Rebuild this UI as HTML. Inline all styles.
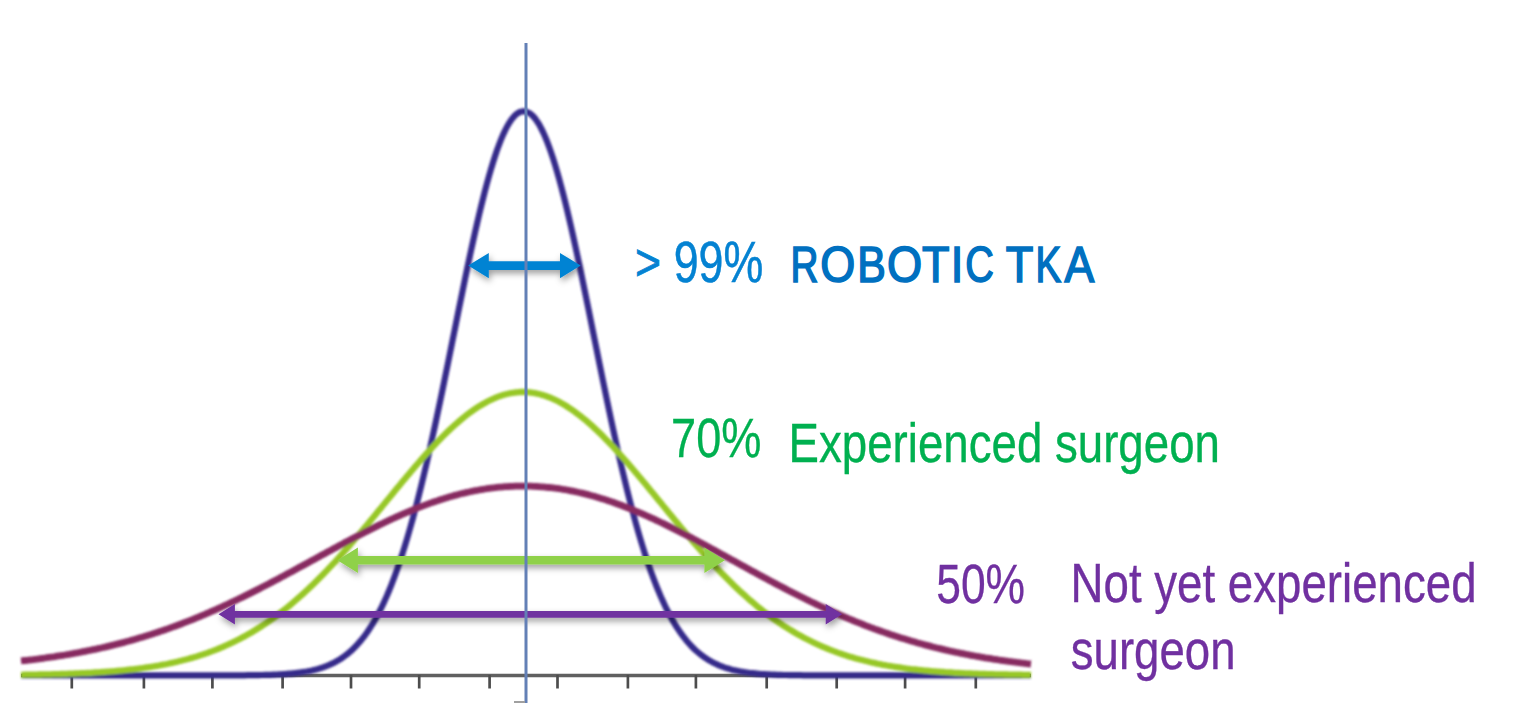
<!DOCTYPE html>
<html><head><meta charset="utf-8"><style>
html,body{margin:0;padding:0;background:#fff;width:1514px;height:708px;overflow:hidden}
svg{display:block}
text{font-family:"Liberation Sans",sans-serif}
</style></head><body>
<svg width="1514" height="708" viewBox="0 0 1514 708">
<defs>
<filter id="sh" x="-10%" y="-50%" width="120%" height="250%"><feDropShadow dx="1.5" dy="3.5" stdDeviation="3" flood-color="#000" flood-opacity="0.38"/></filter>
<filter id="bl2" x="-20%" y="-20%" width="140%" height="140%" filterUnits="userSpaceOnUse"><feGaussianBlur stdDeviation="0.7"/></filter>
<filter id="bl" x="-5%" y="-5%" width="110%" height="110%"><feGaussianBlur stdDeviation="1.0"/></filter>
</defs>
<g filter="url(#bl2)"><line x1="21" y1="675.5" x2="1031" y2="675.5" stroke="#606060" stroke-width="3.6"/>
<g stroke="#4e4e4e" stroke-width="2.7"><line x1="71.8" y1="675" x2="71.8" y2="688.5"/><line x1="143.9" y1="675" x2="143.9" y2="688.5"/><line x1="212.4" y1="675" x2="212.4" y2="688.5"/><line x1="282.6" y1="675" x2="282.6" y2="688.5"/><line x1="351" y1="675" x2="351" y2="688.5"/><line x1="419.2" y1="675" x2="419.2" y2="688.5"/><line x1="489.6" y1="675" x2="489.6" y2="688.5"/><line x1="557.5" y1="675" x2="557.5" y2="688.5"/><line x1="627.9" y1="675" x2="627.9" y2="688.5"/><line x1="695.9" y1="675" x2="695.9" y2="688.5"/><line x1="766.7" y1="675" x2="766.7" y2="688.5"/><line x1="836.7" y1="675" x2="836.7" y2="688.5"/><line x1="905.1" y1="675" x2="905.1" y2="688.5"/><line x1="975.8" y1="675" x2="975.8" y2="688.5"/></g></g>
<g fill="none" stroke-linejoin="round" filter="url(#bl)">
<path d="M21,675.4 23,675.4 25,675.4 27,675.4 29,675.4 31,675.4 33,675.4 35,675.4 37,675.4 39,675.4 41,675.4 43,675.4 45,675.4 47,675.4 49,675.4 51,675.4 53,675.4 55,675.4 57,675.4 59,675.4 61,675.4 63,675.4 65,675.4 67,675.4 69,675.4 71,675.4 73,675.4 75,675.4 77,675.4 79,675.4 81,675.4 83,675.4 85,675.4 87,675.4 89,675.4 91,675.4 93,675.4 95,675.4 97,675.4 99,675.4 101,675.4 103,675.4 105,675.4 107,675.4 109,675.4 111,675.4 113,675.4 115,675.4 117,675.4 119,675.4 121,675.4 123,675.4 125,675.4 127,675.4 129,675.4 131,675.4 133,675.4 135,675.4 137,675.4 139,675.4 141,675.4 143,675.4 145,675.4 147,675.4 149,675.4 151,675.4 153,675.4 155,675.4 157,675.4 159,675.4 161,675.4 163,675.4 165,675.4 167,675.4 169,675.4 171,675.4 173,675.4 175,675.4 177,675.4 179,675.4 181,675.4 183,675.4 185,675.4 187,675.4 189,675.4 191,675.4 193,675.4 195,675.4 197,675.4 199,675.4 201,675.4 203,675.4 205,675.4 207,675.4 209,675.4 211,675.4 213,675.4 215,675.4 217,675.4 219,675.4 221,675.4 223,675.4 225,675.4 227,675.4 229,675.3 231,675.3 233,675.3 235,675.3 237,675.3 239,675.3 241,675.3 243,675.3 245,675.3 247,675.2 249,675.2 251,675.2 253,675.2 255,675.1 257,675.1 259,675.1 261,675.0 263,675.0 265,674.9 267,674.9 269,674.8 271,674.8 273,674.7 275,674.6 277,674.5 279,674.4 281,674.3 283,674.2 285,674.1 287,673.9 289,673.7 291,673.6 293,673.4 295,673.2 297,672.9 299,672.7 301,672.4 303,672.1 305,671.8 307,671.5 309,671.1 311,670.7 313,670.2 315,669.7 317,669.2 319,668.6 321,668.0 323,667.4 325,666.6 327,665.9 329,665.0 331,664.1 333,663.2 335,662.2 337,661.0 339,659.9 341,658.6 343,657.2 345,655.8 347,654.3 349,652.6 351,650.9 353,649.0 355,647.0 357,644.9 359,642.7 361,640.4 363,637.9 365,635.3 367,632.5 369,629.5 371,626.4 373,623.2 375,619.8 377,616.2 379,612.4 381,608.5 383,604.3 385,600.0 387,595.5 389,590.7 391,585.8 393,580.7 395,575.3 397,569.8 399,564.0 401,558.1 403,551.9 405,545.5 407,538.9 409,532.0 411,525.0 413,517.8 415,510.3 417,502.7 419,494.8 421,486.8 423,478.5 425,470.1 427,461.5 429,452.7 431,443.8 433,434.7 435,425.5 437,416.2 439,406.7 441,397.1 443,387.5 445,377.7 447,367.9 449,358.0 451,348.1 453,338.2 455,328.3 457,318.3 459,308.4 461,298.6 463,288.8 465,279.1 467,269.5 469,260.0 471,250.7 473,241.5 475,232.5 477,223.7 479,215.1 481,206.8 483,198.7 485,190.8 487,183.3 489,176.0 491,169.1 493,162.5 495,156.2 497,150.3 499,144.8 501,139.7 503,134.9 505,130.6 507,126.7 509,123.2 511,120.2 513,117.6 515,115.4 517,113.7 519,112.5 521,111.7 523,111.3 525,111.4 527,111.9 529,112.9 531,114.3 533,116.1 535,118.4 537,121.2 539,124.3 541,128.0 543,132.0 545,136.5 547,141.3 549,146.6 551,152.2 553,158.2 555,164.6 557,171.3 559,178.4 561,185.7 563,193.4 565,201.3 567,209.5 569,218.0 571,226.6 573,235.5 575,244.6 577,253.8 579,263.2 581,272.7 583,282.3 585,292.1 587,301.9 589,311.7 591,321.6 593,331.6 595,341.5 597,351.4 599,361.3 601,371.2 603,381.0 605,390.7 607,400.3 609,409.9 611,419.3 613,428.6 615,437.8 617,446.8 619,455.7 621,464.4 623,472.9 625,481.3 627,489.5 629,497.4 631,505.2 633,512.8 635,520.2 637,527.4 639,534.3 641,541.1 643,547.6 645,554.0 647,560.1 649,566.0 651,571.7 653,577.1 655,582.4 657,587.5 659,592.3 661,597.0 663,601.4 665,605.7 667,609.8 669,613.7 671,617.4 673,620.9 675,624.3 677,627.5 679,630.5 681,633.4 683,636.1 685,638.7 687,641.2 689,643.5 691,645.7 693,647.7 695,649.7 697,651.5 699,653.2 701,654.8 703,656.3 705,657.7 707,659.0 709,660.3 711,661.4 713,662.5 715,663.5 717,664.4 719,665.3 721,666.1 723,666.9 725,667.6 727,668.2 729,668.8 731,669.4 733,669.9 735,670.4 737,670.8 739,671.2 741,671.6 743,671.9 745,672.2 747,672.5 749,672.8 751,673.0 753,673.2 755,673.4 757,673.6 759,673.8 761,674.0 763,674.1 765,674.2 767,674.3 769,674.4 771,674.5 773,674.6 775,674.7 777,674.8 779,674.8 781,674.9 783,675.0 785,675.0 787,675.0 789,675.1 791,675.1 793,675.1 795,675.2 797,675.2 799,675.2 801,675.2 803,675.3 805,675.3 807,675.3 809,675.3 811,675.3 813,675.3 815,675.3 817,675.3 819,675.3 821,675.4 823,675.4 825,675.4 827,675.4 829,675.4 831,675.4 833,675.4 835,675.4 837,675.4 839,675.4 841,675.4 843,675.4 845,675.4 847,675.4 849,675.4 851,675.4 853,675.4 855,675.4 857,675.4 859,675.4 861,675.4 863,675.4 865,675.4 867,675.4 869,675.4 871,675.4 873,675.4 875,675.4 877,675.4 879,675.4 881,675.4 883,675.4 885,675.4 887,675.4 889,675.4 891,675.4 893,675.4 895,675.4 897,675.4 899,675.4 901,675.4 903,675.4 905,675.4 907,675.4 909,675.4 911,675.4 913,675.4 915,675.4 917,675.4 919,675.4 921,675.4 923,675.4 925,675.4 927,675.4 929,675.4 931,675.4 933,675.4 935,675.4 937,675.4 939,675.4 941,675.4 943,675.4 945,675.4 947,675.4 949,675.4 951,675.4 953,675.4 955,675.4 957,675.4 959,675.4 961,675.4 963,675.4 965,675.4 967,675.4 969,675.4 971,675.4 973,675.4 975,675.4 977,675.4 979,675.4 981,675.4 983,675.4 985,675.4 987,675.4 989,675.4 991,675.4 993,675.4 995,675.4 997,675.4 999,675.4 1001,675.4 1003,675.4 1005,675.4 1007,675.4 1009,675.4 1011,675.4 1013,675.4 1015,675.4 1017,675.4 1019,675.4 1021,675.4 1023,675.4 1025,675.4 1027,675.4 1029,675.4 1031,675.4" stroke="#35298a" stroke-width="6.2"/>
<path d="M21,674.8 23,674.8 25,674.7 27,674.7 29,674.7 31,674.7 33,674.6 35,674.6 37,674.6 39,674.5 41,674.5 43,674.4 45,674.4 47,674.4 49,674.3 51,674.3 53,674.2 55,674.2 57,674.1 59,674.1 61,674.0 63,673.9 65,673.9 67,673.8 69,673.7 71,673.7 73,673.6 75,673.5 77,673.4 79,673.3 81,673.2 83,673.2 85,673.1 87,673.0 89,672.9 91,672.8 93,672.6 95,672.5 97,672.4 99,672.3 101,672.1 103,672.0 105,671.9 107,671.7 109,671.6 111,671.4 113,671.3 115,671.1 117,670.9 119,670.7 121,670.6 123,670.4 125,670.2 127,669.9 129,669.7 131,669.5 133,669.3 135,669.0 137,668.8 139,668.5 141,668.3 143,668.0 145,667.7 147,667.4 149,667.1 151,666.8 153,666.5 155,666.2 157,665.8 159,665.5 161,665.1 163,664.7 165,664.4 167,664.0 169,663.5 171,663.1 173,662.7 175,662.2 177,661.8 179,661.3 181,660.8 183,660.3 185,659.8 187,659.3 189,658.7 191,658.1 193,657.6 195,657.0 197,656.4 199,655.7 201,655.1 203,654.4 205,653.8 207,653.1 209,652.3 211,651.6 213,650.9 215,650.1 217,649.3 219,648.5 221,647.7 223,646.8 225,645.9 227,645.0 229,644.1 231,643.2 233,642.2 235,641.3 237,640.3 239,639.3 241,638.2 243,637.1 245,636.1 247,634.9 249,633.8 251,632.7 253,631.5 255,630.3 257,629.0 259,627.8 261,626.5 263,625.2 265,623.9 267,622.5 269,621.1 271,619.7 273,618.3 275,616.9 277,615.4 279,613.9 281,612.3 283,610.8 285,609.2 287,607.6 289,606.0 291,604.3 293,602.6 295,600.9 297,599.2 299,597.4 301,595.7 303,593.9 305,592.0 307,590.2 309,588.3 311,586.4 313,584.5 315,582.5 317,580.5 319,578.5 321,576.5 323,574.5 325,572.4 327,570.3 329,568.2 331,566.1 333,563.9 335,561.8 337,559.6 339,557.4 341,555.2 343,552.9 345,550.7 347,548.4 349,546.1 351,543.8 353,541.5 355,539.1 357,536.8 359,534.4 361,532.1 363,529.7 365,527.3 367,524.9 369,522.5 371,520.1 373,517.6 375,515.2 377,512.8 379,510.3 381,507.9 383,505.4 385,503.0 387,500.6 389,498.1 391,495.7 393,493.2 395,490.8 397,488.3 399,485.9 401,483.5 403,481.1 405,478.7 407,476.3 409,473.9 411,471.5 413,469.2 415,466.8 417,464.5 419,462.2 421,459.9 423,457.6 425,455.4 427,453.2 429,451.0 431,448.8 433,446.6 435,444.5 437,442.4 439,440.3 441,438.3 443,436.2 445,434.3 447,432.3 449,430.4 451,428.5 453,426.7 455,424.8 457,423.1 459,421.3 461,419.7 463,418.0 465,416.4 467,414.8 469,413.3 471,411.8 473,410.4 475,409.0 477,407.7 479,406.4 481,405.2 483,404.0 485,402.9 487,401.8 489,400.8 491,399.8 493,398.9 495,398.0 497,397.2 499,396.4 501,395.7 503,395.1 505,394.5 507,394.0 509,393.5 511,393.1 513,392.8 515,392.5 517,392.3 519,392.1 521,392.0 523,392.0 525,392.0 527,392.1 529,392.3 531,392.5 533,392.8 535,393.2 537,393.6 539,394.0 541,394.6 543,395.1 545,395.8 547,396.5 549,397.2 551,398.0 553,398.9 555,399.8 557,400.8 559,401.8 561,402.9 563,404.1 565,405.2 567,406.5 569,407.8 571,409.1 573,410.5 575,411.9 577,413.4 579,414.9 581,416.5 583,418.1 585,419.7 587,421.4 589,423.2 591,424.9 593,426.7 595,428.6 597,430.5 599,432.4 601,434.3 603,436.3 605,438.4 607,440.4 609,442.5 611,444.6 613,446.7 615,448.9 617,451.1 619,453.3 621,455.5 623,457.8 625,460.0 627,462.3 629,464.6 631,467.0 633,469.3 635,471.7 637,474.0 639,476.4 641,478.8 643,481.2 645,483.6 647,486.0 649,488.5 651,490.9 653,493.3 655,495.8 657,498.2 659,500.7 661,503.1 663,505.6 665,508.0 667,510.5 669,512.9 671,515.3 673,517.8 675,520.2 677,522.6 679,525.0 681,527.4 683,529.8 685,532.2 687,534.6 689,536.9 691,539.3 693,541.6 695,543.9 697,546.2 699,548.5 701,550.8 703,553.0 705,555.3 707,557.5 709,559.7 711,561.9 713,564.1 715,566.2 717,568.3 719,570.4 721,572.5 723,574.6 725,576.6 727,578.6 729,580.6 731,582.6 733,584.6 735,586.5 737,588.4 739,590.3 741,592.1 743,593.9 745,595.7 747,597.5 749,599.3 751,601.0 753,602.7 755,604.4 757,606.1 759,607.7 761,609.3 763,610.9 765,612.4 767,613.9 769,615.5 771,616.9 773,618.4 775,619.8 777,621.2 779,622.6 781,623.9 783,625.3 785,626.6 787,627.8 789,629.1 791,630.3 793,631.5 795,632.7 797,633.9 799,635.0 801,636.1 803,637.2 805,638.3 807,639.3 809,640.3 811,641.3 813,642.3 815,643.2 817,644.2 819,645.1 821,646.0 823,646.8 825,647.7 827,648.5 829,649.3 831,650.1 833,650.9 835,651.6 837,652.4 839,653.1 841,653.8 843,654.5 845,655.1 847,655.8 849,656.4 851,657.0 853,657.6 855,658.2 857,658.7 859,659.3 861,659.8 863,660.3 865,660.8 867,661.3 869,661.8 871,662.3 873,662.7 875,663.1 877,663.6 879,664.0 881,664.4 883,664.8 885,665.1 887,665.5 889,665.8 891,666.2 893,666.5 895,666.8 897,667.1 899,667.4 901,667.7 903,668.0 905,668.3 907,668.6 909,668.8 911,669.1 913,669.3 915,669.5 917,669.7 919,670.0 921,670.2 923,670.4 925,670.6 927,670.7 929,670.9 931,671.1 933,671.3 935,671.4 937,671.6 939,671.7 941,671.9 943,672.0 945,672.2 947,672.3 949,672.4 951,672.5 953,672.6 955,672.8 957,672.9 959,673.0 961,673.1 963,673.2 965,673.3 967,673.3 969,673.4 971,673.5 973,673.6 975,673.7 977,673.7 979,673.8 981,673.9 983,673.9 985,674.0 987,674.1 989,674.1 991,674.2 993,674.2 995,674.3 997,674.3 999,674.4 1001,674.4 1003,674.4 1005,674.5 1007,674.5 1009,674.6 1011,674.6 1013,674.6 1015,674.7 1017,674.7 1019,674.7 1021,674.7 1023,674.8 1025,674.8 1027,674.8 1029,674.8 1031,674.9" stroke="#97c828" stroke-width="6.3"/>
<path d="M21,660.9 23,660.7 25,660.5 27,660.3 29,660.0 31,659.8 33,659.6 35,659.3 37,659.1 39,658.8 41,658.5 43,658.3 45,658.0 47,657.7 49,657.4 51,657.1 53,656.9 55,656.6 57,656.2 59,655.9 61,655.6 63,655.3 65,655.0 67,654.6 69,654.3 71,653.9 73,653.6 75,653.2 77,652.9 79,652.5 81,652.1 83,651.7 85,651.3 87,650.9 89,650.5 91,650.1 93,649.7 95,649.3 97,648.9 99,648.4 101,648.0 103,647.5 105,647.1 107,646.6 109,646.1 111,645.6 113,645.1 115,644.7 117,644.1 119,643.6 121,643.1 123,642.6 125,642.1 127,641.5 129,641.0 131,640.4 133,639.9 135,639.3 137,638.7 139,638.1 141,637.5 143,636.9 145,636.3 147,635.7 149,635.1 151,634.4 153,633.8 155,633.1 157,632.5 159,631.8 161,631.1 163,630.5 165,629.8 167,629.1 169,628.4 171,627.6 173,626.9 175,626.2 177,625.5 179,624.7 181,624.0 183,623.2 185,622.4 187,621.6 189,620.9 191,620.1 193,619.3 195,618.5 197,617.6 199,616.8 201,616.0 203,615.1 205,614.3 207,613.4 209,612.6 211,611.7 213,610.8 215,610.0 217,609.1 219,608.2 221,607.3 223,606.3 225,605.4 227,604.5 229,603.6 231,602.6 233,601.7 235,600.7 237,599.8 239,598.8 241,597.8 243,596.9 245,595.9 247,594.9 249,593.9 251,592.9 253,591.9 255,590.9 257,589.9 259,588.9 261,587.8 263,586.8 265,585.8 267,584.7 269,583.7 271,582.6 273,581.6 275,580.5 277,579.5 279,578.4 281,577.3 283,576.3 285,575.2 287,574.1 289,573.0 291,572.0 293,570.9 295,569.8 297,568.7 299,567.6 301,566.5 303,565.4 305,564.4 307,563.3 309,562.2 311,561.1 313,560.0 315,558.9 317,557.8 319,556.7 321,555.6 323,554.5 325,553.4 327,552.3 329,551.2 331,550.2 333,549.1 335,548.0 337,546.9 339,545.8 341,544.7 343,543.7 345,542.6 347,541.5 349,540.5 351,539.4 353,538.4 355,537.3 357,536.3 359,535.2 361,534.2 363,533.2 365,532.1 367,531.1 369,530.1 371,529.1 373,528.1 375,527.1 377,526.1 379,525.1 381,524.2 383,523.2 385,522.2 387,521.3 389,520.3 391,519.4 393,518.5 395,517.6 397,516.7 399,515.8 401,514.9 403,514.0 405,513.2 407,512.3 409,511.5 411,510.6 413,509.8 415,509.0 417,508.2 419,507.4 421,506.6 423,505.9 425,505.1 427,504.4 429,503.6 431,502.9 433,502.2 435,501.5 437,500.9 439,500.2 441,499.5 443,498.9 445,498.3 447,497.7 449,497.1 451,496.5 453,495.9 455,495.4 457,494.9 459,494.3 461,493.8 463,493.3 465,492.9 467,492.4 469,492.0 471,491.5 473,491.1 475,490.7 477,490.4 479,490.0 481,489.6 483,489.3 485,489.0 487,488.7 489,488.4 491,488.1 493,487.9 495,487.7 497,487.4 499,487.2 501,487.1 503,486.9 505,486.7 507,486.6 509,486.5 511,486.4 513,486.3 515,486.2 517,486.2 519,486.1 521,486.1 523,486.1 525,486.1 527,486.1 529,486.2 531,486.2 533,486.3 535,486.4 537,486.5 539,486.6 541,486.8 543,486.9 545,487.1 547,487.3 549,487.5 551,487.7 553,487.9 555,488.2 557,488.4 559,488.7 561,489.0 563,489.4 565,489.7 567,490.0 569,490.4 571,490.8 573,491.2 575,491.6 577,492.0 579,492.5 581,492.9 583,493.4 585,493.9 587,494.4 589,494.9 591,495.5 593,496.0 595,496.6 597,497.2 599,497.8 601,498.4 603,499.0 605,499.6 607,500.3 609,501.0 611,501.6 613,502.3 615,503.0 617,503.8 619,504.5 621,505.2 623,506.0 625,506.8 627,507.5 629,508.3 631,509.1 633,509.9 635,510.8 637,511.6 639,512.5 641,513.3 643,514.2 645,515.1 647,516.0 649,516.9 651,517.8 653,518.7 655,519.6 657,520.6 659,521.5 661,522.5 663,523.4 665,524.4 667,525.4 669,526.4 671,527.4 673,528.4 675,529.4 677,530.4 679,531.4 681,532.4 683,533.5 685,534.5 687,535.5 689,536.6 691,537.6 693,538.7 695,539.8 697,540.8 699,541.9 701,543.0 703,544.1 705,545.1 707,546.2 709,547.3 711,548.4 713,549.5 715,550.6 717,551.7 719,552.8 721,553.9 723,555.0 725,556.1 727,557.2 729,558.3 731,559.4 733,560.5 735,561.6 737,562.7 739,563.8 741,564.9 743,566.0 745,567.1 747,568.2 749,569.3 751,570.4 753,571.5 755,572.6 757,573.7 759,574.8 761,575.9 763,576.9 765,578.0 767,579.1 769,580.2 771,581.3 773,582.3 775,583.4 777,584.4 779,585.5 781,586.5 783,587.6 785,588.6 787,589.7 789,590.7 791,591.7 793,592.8 795,593.8 797,594.8 799,595.8 801,596.8 803,597.8 805,598.8 807,599.8 809,600.7 811,601.7 813,602.7 815,603.6 817,604.6 819,605.5 821,606.5 823,607.4 825,608.3 827,609.2 829,610.2 831,611.1 833,612.0 835,612.8 837,613.7 839,614.6 841,615.5 843,616.3 845,617.2 847,618.0 849,618.9 851,619.7 853,620.5 855,621.3 857,622.1 859,622.9 861,623.7 863,624.5 865,625.3 867,626.1 869,626.8 871,627.6 873,628.3 875,629.1 877,629.8 879,630.5 881,631.2 883,631.9 885,632.6 887,633.3 889,634.0 891,634.7 893,635.3 895,636.0 897,636.6 899,637.3 901,637.9 903,638.5 905,639.1 907,639.7 909,640.3 911,640.9 913,641.5 915,642.1 917,642.7 919,643.2 921,643.8 923,644.3 925,644.9 927,645.4 929,645.9 931,646.4 933,647.0 935,647.5 937,648.0 939,648.4 941,648.9 943,649.4 945,649.9 947,650.3 949,650.8 951,651.2 953,651.7 955,652.1 957,652.5 959,652.9 961,653.3 963,653.7 965,654.1 967,654.5 969,654.9 971,655.3 973,655.7 975,656.0 977,656.4 979,656.7 981,657.1 983,657.4 985,657.8 987,658.1 989,658.4 991,658.7 993,659.1 995,659.4 997,659.7 999,660.0 1001,660.3 1003,660.5 1005,660.8 1007,661.1 1009,661.4 1011,661.6 1013,661.9 1015,662.1 1017,662.4 1019,662.6 1021,662.9 1023,663.1 1025,663.3 1027,663.6 1029,663.8 1031,664.0" stroke="#872a60" stroke-width="6.8"/>
</g>
<g filter="url(#sh)">
<path d="M468.2,265.6 488.8,253.0 488.8,261.3 560.0,261.3 560.0,253.0 580.6,265.6 560.0,278.2 560.0,269.9 488.8,269.9 488.8,278.2Z" fill="#0683d3"/>
<path d="M337.4,560.2 357.9,547.5 357.9,556.1 704.4,556.1 704.4,547.5 724.9,560.2 704.4,572.9 704.4,564.4 357.9,564.4 357.9,572.9Z" fill="#8fd14a"/>
<path d="M218.5,614.3 234.9,603.9 234.9,610.9 825.7,610.9 825.7,603.9 842.1,614.3 825.7,624.6 825.7,617.7 234.9,617.7 234.9,624.6Z" fill="#7030a0"/>
</g>
<g filter="url(#bl2)"><line x1="526" y1="43" x2="526" y2="703" stroke="#6380b6" stroke-width="3.0"/>
<line x1="514" y1="702" x2="525" y2="702" stroke="#a0a0a0" stroke-width="2"/></g>
<text transform="translate(634.9,279.5) scale(0.867,1)" font-size="51.3" fill="#0482d2" stroke="#0482d2" stroke-width="0.8">&gt;</text>
<text transform="translate(673.65,281.97) scale(0.7786,1)" font-size="57.5" fill="#0482d2" stroke="#0482d2" stroke-width="0.5">99%</text>
<text transform="translate(671.12,456.73) scale(0.8166,1)" font-size="55.3" fill="#00b050" stroke="#00b050" stroke-width="0.3">70%</text>
<text transform="translate(788.6,461.5) scale(0.836,1)" font-size="54.6" fill="#00b050" stroke="#00b050" stroke-width="0.35">Experienced surgeon</text>
<text transform="translate(936.2,603.13) scale(0.8003,1)" font-size="55.5" fill="#7030a0" stroke="#7030a0" stroke-width="0.3">50%</text>
<text transform="translate(1070.6,601.8) scale(0.83,1)" font-size="55" fill="#7030a0" stroke="#7030a0" stroke-width="0.35">Not yet experienced</text>
<text transform="translate(1070.8,669.2) scale(0.826,1)" font-size="55.2" fill="#7030a0" stroke="#7030a0" stroke-width="0.35">surgeon</text>
<text transform="translate(790.61,282.0) scale(0.777,1)" font-size="49.8" fill="#0070c0" stroke="#0070c0" stroke-width="1.6">R</text>
<text transform="translate(820.15,282.0) scale(0.903,1)" font-size="49.8" fill="#0070c0" stroke="#0070c0" stroke-width="1.6">O</text>
<text transform="translate(857.33,282.0) scale(0.861,1)" font-size="49.8" fill="#0070c0" stroke="#0070c0" stroke-width="1.6">B</text>
<text transform="translate(887.04,282.0) scale(0.908,1)" font-size="49.8" fill="#0070c0" stroke="#0070c0" stroke-width="1.6">O</text>
<text transform="translate(921.9,282.0) scale(0.903,1)" font-size="49.8" fill="#0070c0" stroke="#0070c0" stroke-width="1.6">T</text>
<text transform="translate(950.82,282.0) scale(0.908,1)" font-size="49.8" fill="#0070c0" stroke="#0070c0" stroke-width="1.6">I</text>
<text transform="translate(965.17,282.0) scale(0.795,1)" font-size="49.8" fill="#0070c0" stroke="#0070c0" stroke-width="1.6">C</text>
<text transform="translate(1005.8,282.0) scale(0.907,1)" font-size="49.8" fill="#0070c0" stroke="#0070c0" stroke-width="1.6">T</text>
<text transform="translate(1035.52,282.0) scale(0.774,1)" font-size="49.8" fill="#0070c0" stroke="#0070c0" stroke-width="1.6">K</text>
<text transform="translate(1064.4,282.0) scale(0.896,1)" font-size="49.8" fill="#0070c0" stroke="#0070c0" stroke-width="1.6">A</text>

</svg>
</body></html>
